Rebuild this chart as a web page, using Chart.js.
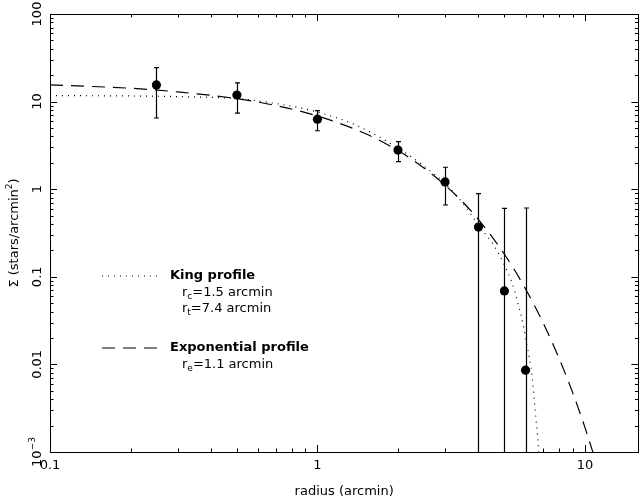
<!DOCTYPE html>
<html>
<head>
<meta charset="utf-8">
<title>Radial density profile</title>
<script src="https://cdn.jsdelivr.net/npm/chart.js@4.4.0/dist/chart.umd.min.js"></script>
<style>
    html, body { margin: 0; padding: 0; background: #fff; }
    #wrap { width: 643px; height: 503px; position: relative; }
</style>
</head>
<body>
<div id="wrap"><canvas id="profileChart"></canvas></div>
<script>
// Observed surface density with error bars
const radiusPts = [0.25, 0.5, 1.0, 2.0, 3.0, 4.0, 5.0, 6.0];
const sigmaPts  = [15.5, 11.9, 6.3, 2.8, 1.21, 0.37, 0.069, 0.0086];
const sigmaHi   = [24.4, 16.4, 7.9, 3.5, 1.78, 0.89, 0.605, 0.61];
const sigmaLo   = [6.5, 7.4, 4.65, 2.06, 0.66, null, null, null]; // null: bar runs off the bottom

// King profile (dotted)
const kingR     = [0.1, 0.2, 0.3, 0.5, 0.7, 1.0, 1.4, 2.0, 2.5, 3.0, 3.5, 4.0, 4.6, 5.0, 5.35, 5.65, 5.9, 6.05, 6.2, 6.35, 6.45, 6.55, 6.68, 6.75];
const kingSigma = [11.7, 11.6, 11.4, 10.8, 9.5, 7.6, 5.35, 2.95, 1.84, 1.15, 0.69, 0.39, 0.22, 0.136, 0.084, 0.047, 0.027, 0.0175, 0.012, 0.0072, 0.0043, 0.0025, 0.0013, 0.0008];

// Exponential profile (dashed)
const expR      = [0.1, 0.2, 0.3, 0.5, 0.7, 1.0, 1.5, 2.0, 2.5, 3.0, 3.5, 4.0, 5.0, 6.0, 7.0, 8.0, 9.0, 10.0, 11.0];
const expSigma  = [15.5, 14.2, 12.9, 10.8, 9.0, 6.85, 4.35, 2.76, 1.75, 1.11, 0.71, 0.45, 0.181, 0.0727, 0.0293, 0.0118, 0.00476, 0.00191, 0.00077];

// Axis ticks
const xMajor  = [0.1, 1, 10];
const xLabels = ['0.1', '1', '10'];
const yMajor  = [100, 10, 1, 0.1, 0.01, 0.001];
const yLabels = ['100', '10', '1', '0.1', '0.01', '10^{\u22123}'];

// Legend entries
const legendItems = [
    { name: 'King profile', dash: [1, 5], notes: ['r_{c}=1.5 arcmin', 'r_{t}=7.4 arcmin'] },
    { name: 'Exponential profile', dash: [13, 8], notes: ['r_{e}=1.1 arcmin'] }
];

const FONT = '"DejaVu Sans", "Liberation Sans", Arial, sans-serif';

document.addEventListener('DOMContentLoaded', function() {
    initProfileChart();
});

// Rich text: ^{..} superscript, _{..} subscript
function parseRich(str) {
    const parts = [];
    const re = /([\^_])\{([^}]*)\}/g;
    let last = 0, m;
    while ((m = re.exec(str))) {
        if (m.index > last) parts.push({ text: str.slice(last, m.index), shift: 0 });
        parts.push({ text: m[2], shift: m[1] === '^' ? -1 : 1 });
        last = re.lastIndex;
    }
    if (last < str.length) parts.push({ text: str.slice(last), shift: 0 });
    return parts;
}

function drawRich(ctx, str, x, y, size, weight, align) {
    const parts = parseRich(str);
    const small = Math.round(size * 0.72);
    let total = 0;
    parts.forEach(p => {
        ctx.font = `${weight} ${p.shift ? small : size}px ${FONT}`;
        p.w = ctx.measureText(p.text).width;
        total += p.w;
    });
    let cx = x;
    if (align === 'center') cx = x - total / 2;
    if (align === 'right') cx = x - total;
    ctx.textAlign = 'left';
    ctx.textBaseline = 'middle';
    parts.forEach(p => {
        ctx.font = `${weight} ${p.shift ? small : size}px ${FONT}`;
        let dy = 0;
        if (p.shift === -1) dy = -size * 0.42;
        if (p.shift === 1) dy = size * 0.3;
        ctx.fillText(p.text, cx, y + dy);
        cx += p.w;
    });
}

function strokeLine(ctx, x1, y1, x2, y2) {
    ctx.beginPath();
    ctx.moveTo(x1, y1);
    ctx.lineTo(x2, y2);
    ctx.stroke();
}

// Error bars drawn through the scales
const errorBars = {
    id: 'errorBars',
    afterDatasetsDraw(chart) {
        const { ctx, chartArea: a, scales: { x, y } } = chart;
        ctx.save();
        ctx.beginPath();
        ctx.rect(a.left, a.top, a.right - a.left, a.bottom - a.top);
        ctx.clip();
        ctx.strokeStyle = '#000';
        ctx.lineWidth = 1.2;
        radiusPts.forEach((r, i) => {
            const px = Math.round(x.getPixelForValue(r)) + 0.5;
            const top = y.getPixelForValue(sigmaHi[i]);
            const bot = sigmaLo[i] === null ? a.bottom + 2 : y.getPixelForValue(sigmaLo[i]);
            strokeLine(ctx, px, top, px, bot);
            strokeLine(ctx, px - 2.5, top, px + 2.5, top);
            if (sigmaLo[i] !== null) strokeLine(ctx, px - 2.5, bot, px + 2.5, bot);
        });
        ctx.restore();
    }
};

// Box, log ticks on all four sides, labels, titles, legend
const frameAndLabels = {
    id: 'frameAndLabels',
    afterDraw(chart) {
        const { ctx, chartArea: a, scales: { x, y } } = chart;
        ctx.save();
        ctx.strokeStyle = '#000';
        ctx.fillStyle = '#000';
        ctx.lineWidth = 1;
        ctx.strokeRect(Math.round(a.left) + 0.5, Math.round(a.top) + 0.5,
                       Math.round(a.right - a.left), Math.round(a.bottom - a.top));

        const major = 7, minor = 3.5;
        for (let d = -1; d <= 1; d++) {
            for (let m = 1; m <= 9; m++) {
                const v = m * Math.pow(10, d);
                if (v <= x.min || v >= x.max) continue;
                const px = Math.round(x.getPixelForValue(v)) + 0.5;
                const len = m === 1 ? major : minor;
                strokeLine(ctx, px, a.bottom, px, a.bottom - len);
                strokeLine(ctx, px, a.top, px, a.top + len);
            }
        }
        for (let d = -3; d <= 1; d++) {
            for (let m = 1; m <= 9; m++) {
                const v = m * Math.pow(10, d);
                if (v <= y.min || v >= y.max) continue;
                const py = Math.round(y.getPixelForValue(v)) + 0.5;
                const len = m === 1 ? major : minor;
                strokeLine(ctx, a.left, py, a.left + len, py);
                strokeLine(ctx, a.right, py, a.right - len, py);
            }
        }

        // x tick labels
        xMajor.forEach((v, i) => {
            drawRich(ctx, xLabels[i], x.getPixelForValue(v), a.bottom + 14, 13, 'normal', 'center');
        });
        // y tick labels, rotated
        yMajor.forEach((v, i) => {
            ctx.save();
            ctx.translate(a.left - 12, y.getPixelForValue(v));
            ctx.rotate(-Math.PI / 2);
            drawRich(ctx, yLabels[i], 0, 0, 13, 'normal', 'center');
            ctx.restore();
        });

        // axis titles
        drawRich(ctx, 'radius (arcmin)', (a.left + a.right) / 2, a.bottom + 40, 13, 'normal', 'center');
        ctx.save();
        ctx.translate(a.left - 35, (a.top + a.bottom) / 2);
        ctx.rotate(-Math.PI / 2);
        drawRich(ctx, '\u03a3 (stars/arcmin^{2})', 0, 0, 13, 'normal', 'center');
        ctx.restore();

        // legend
        let ly = a.top + 262;
        legendItems.forEach(item => {
            ctx.setLineDash(item.dash);
            ctx.lineWidth = 1.2;
            strokeLine(ctx, a.left + 52, ly, a.left + 110, ly);
            ctx.setLineDash([]);
            drawRich(ctx, item.name, a.left + 120, ly, 13, 'bold', 'left');
            let ny = ly + 17;
            item.notes.forEach(n => {
                drawRich(ctx, n, a.left + 132, ny, 13, 'normal', 'left');
                ny += 16;
            });
            ly += 72;
        });
        ctx.restore();
    }
};

function initProfileChart() {
    const pts = radiusPts.map((r, i) => ({ x: r, y: sigmaPts[i] }));
    const king = kingR.map((r, i) => ({ x: r, y: kingSigma[i] }));
    const expo = expR.map((r, i) => ({ x: r, y: expSigma[i] }));

    const lineStyle = {
        showLine: true,
        borderColor: '#000',
        borderWidth: 1.2,
        pointRadius: 0,
        cubicInterpolationMode: 'monotone',
        fill: false
    };

    new Chart(document.getElementById('profileChart'), {
        type: 'scatter',
        data: {
            datasets: [
                { label: 'Data', data: pts, pointRadius: 4.6, pointBackgroundColor: '#000',
                  pointBorderColor: '#000', pointBorderWidth: 0, showLine: false, order: 0 },
                Object.assign({ label: 'King profile', data: king, borderDash: [1, 5], order: 1 }, lineStyle),
                Object.assign({ label: 'Exponential profile', data: expo, borderDash: [13, 8], order: 2 }, lineStyle)
            ]
        },
        options: {
            responsive: true,
            maintainAspectRatio: false,
            animation: false,
            layout: { padding: { left: 50, top: 14, right: 3, bottom: 51 } },
            scales: {
                x: { type: 'logarithmic', min: 0.1, max: Math.pow(10, 1.2), display: false },
                y: { type: 'logarithmic', min: 0.001, max: 100, display: false }
            },
            plugins: {
                legend: { display: false },
                tooltip: { enabled: false }
            }
        },
        plugins: [errorBars, frameAndLabels]
    });
}
</script>
</body>
</html>
